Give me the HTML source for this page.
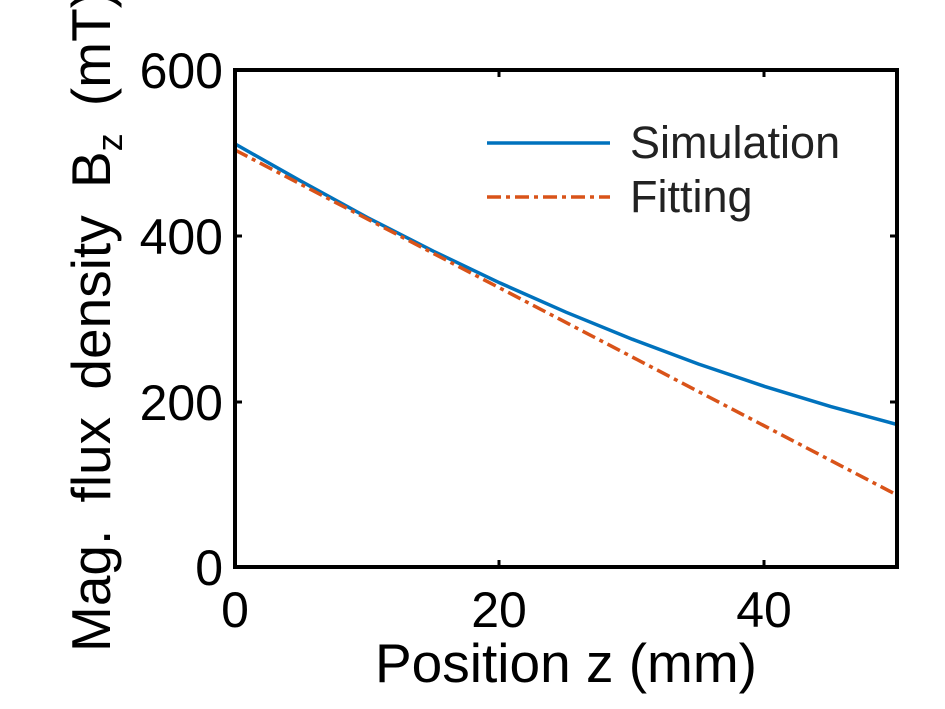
<!DOCTYPE html>
<html><head><style>body{margin:0;background:#fff}svg{display:block}</style></head><body>
<svg width="945" height="709" viewBox="0 0 945 709" xmlns="http://www.w3.org/2000/svg" font-family="Liberation Sans, Arial, sans-serif">
<rect width="945" height="709" fill="#fff"/>
<polyline fill="none" stroke="#0072bd" stroke-width="3.5" points="235,143.9 301.2,181.3 367.4,217.5 433.6,251.3 499.8,282.9 566,312.2 632.2,339.2 698.4,364 764.6,386.4 830.8,406.6 897,424.5"/>
<line x1="235" y1="150" x2="897" y2="495" stroke="#d95319" stroke-width="3.5" stroke-dasharray="14,5,4,5"/>
<rect x="235" y="70" width="662" height="497" fill="none" stroke="#000" stroke-width="4"/>
<g stroke="#000" stroke-width="3">
<line x1="499" y1="567" x2="499" y2="560"/><line x1="764" y1="567" x2="764" y2="560"/>
<line x1="499" y1="70" x2="499" y2="77"/><line x1="764" y1="70" x2="764" y2="77"/>
<line x1="235" y1="236" x2="242" y2="236"/><line x1="235" y1="402" x2="242" y2="402"/>
<line x1="897" y1="236" x2="890" y2="236"/><line x1="897" y1="402" x2="890" y2="402"/>
</g>
<g font-size="50" fill="#000" text-anchor="end">
<text x="223" y="88">600</text><text x="223" y="254">400</text><text x="223" y="420">200</text><text x="223" y="585">0</text>
</g>
<g font-size="50" fill="#000" text-anchor="middle">
<text x="235" y="627">0</text><text x="499" y="627">20</text><text x="764" y="627">40</text>
</g>
<text x="566" y="682" font-size="55" text-anchor="middle">Position z (mm)</text>
<text transform="translate(110,652) rotate(-90)" font-size="55" word-spacing="12">Mag. flux density B<tspan font-size="36" dy="12">z</tspan><tspan dy="-12"> (mT)</tspan></text>
<line x1="487" y1="143" x2="610" y2="143" stroke="#0072bd" stroke-width="3.5"/>
<line x1="487" y1="197" x2="610" y2="197" stroke="#d95319" stroke-width="3.5" stroke-dasharray="14,5,4,5"/>
<text x="630" y="158" font-size="45" fill="#222">Simulation</text>
<text x="630" y="212" font-size="45" fill="#222">Fitting</text>
</svg>
</body></html>
